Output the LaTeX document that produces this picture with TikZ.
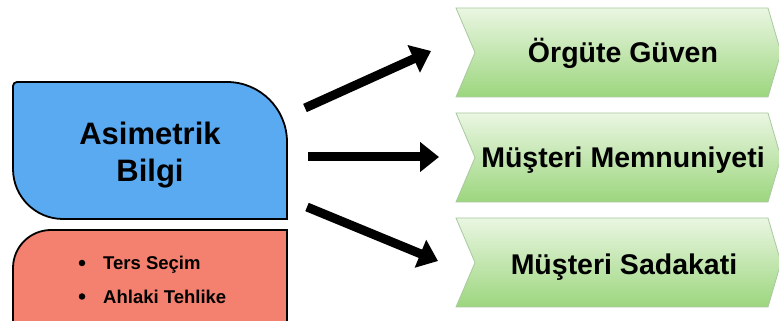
\documentclass[tikz,border=0pt]{standalone}
\usepackage{fontspec}
\setmainfont{Liberation Sans}
\usetikzlibrary{arrows.meta}
\definecolor{bluefill}{HTML}{5AAAF2}
\definecolor{redfill}{HTML}{F4806F}
\definecolor{greentop}{HTML}{EAF6E2}
\definecolor{greenbot}{HTML}{9CD67E}
\definecolor{greenline}{HTML}{A9C99F}
\tikzset{
  shapeline/.style={draw=black, line width=1.8pt},
  chevron/.style={top color=greentop, bottom color=greenbot, draw=greenline, line width=0.8pt},
  bigtext/.style={font=\bfseries\fontsize{31}{35}\selectfont, align=center, inner sep=0pt},
  chevtext/.style={font=\bfseries\fontsize{28.5}{32}\selectfont, anchor=base, inner sep=0pt},
  bullettext/.style={font=\bfseries\fontsize{18.5}{22}\selectfont, anchor=base west, inner sep=0pt},
  bulletdot/.style={circle, fill=black, inner sep=0pt, minimum size=6.5pt},
  fatarrow/.style={line width=9pt, -{Triangle[length=19pt,width=29pt]}}
}
\begin{document}
\begin{tikzpicture}[x=1pt,y=1pt]
\fill[white] (0,0) rectangle (779,321);
\useasboundingbox (0,0) rectangle (779,321);
% blue shape
\path[shapeline, fill=bluefill] (13,235) -- (13,152) arc(180:270:50) -- (287,102) -- (287,179) arc(0:90:60) -- (17,239) arc(90:180:4) -- cycle;
% red shape
\path[shapeline, fill=redfill] (13,-10) -- (13,53) arc(180:90:38) -- (287,91) -- (287,-10);
% blue text
\node[bigtext, anchor=base] (asim) at (150,176) {Asimetrik};
\node[bigtext, anchor=base] (bilgi) at (150,139) {Bilgi};
% bullets
\node[bulletdot] (b1) at (82,58) {};
\node[bullettext] (t1) at (103,51.5) {Ters Seçim};
\node[bulletdot] (b2) at (82,24.5) {};
\node[bullettext] (t2) at (103,17.5) {Ahlaki Tehlike};
% chevrons
\path[chevron] (456,313) -- (768,313) -- (781,268.5) -- (768,224) -- (456,224) -- (475,268.5) -- cycle;
\path[chevron] (456,208) -- (768,208) -- (781,163.5) -- (768,119) -- (456,119) -- (475,163.5) -- cycle;
\path[chevron] (456,103) -- (768,103) -- (781,58.5) -- (768,14) -- (456,14) -- (475,58.5) -- cycle;
\node[chevtext] (g1) at (623,258) {Örgüte Güven};
\node[chevtext] (g2) at (623,153.5) {Müşteri Memnuniyeti};
\node[chevtext] (g3) at (624,46) {Müşteri Sadakati};
% arrow ends
\coordinate (a1s) at (305,213);
\coordinate (a1e) at (431,270);
\coordinate (a2s) at (308,164);
\coordinate (a2e) at (439,164);
\coordinate (a3s) at (307,114);
\coordinate (a3e) at (438,60);
\draw[fatarrow] (a1s) -- (a1e);
\draw[fatarrow] (a2s) -- (a2e);
\draw[fatarrow] (a3s) -- (a3e);
\end{tikzpicture}
\end{document}
